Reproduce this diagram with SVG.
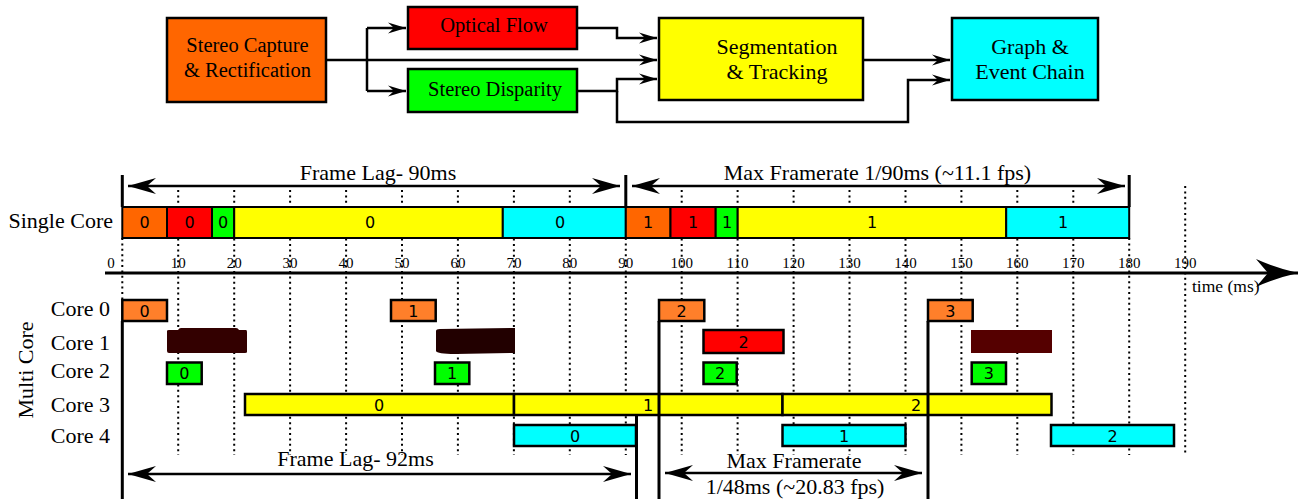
<svg xmlns="http://www.w3.org/2000/svg" width="1305" height="499" viewBox="0 0 1305 499">
<style>
.bx{stroke:#000;stroke-width:2.5}
.t{font-family:"Liberation Serif","Times New Roman",serif;fill:#000}
.fl{font-size:20.5px;text-anchor:middle}
.fl2{font-size:22px;text-anchor:middle}
.lb{font-size:22px}
.n{font-family:"DejaVu Sans",sans-serif;font-size:16px;text-anchor:middle;fill:#000}
.ax{font-family:"Liberation Serif",serif;font-size:15px;text-anchor:middle;fill:#000}
.c{fill:none;stroke:#000;stroke-width:2.5}
.dot{fill:none;stroke:#000;stroke-width:2;stroke-dasharray:2 3.4}
.v{stroke:#000;stroke-width:3}
.sb{stroke:#000;stroke-width:2}
.mb{stroke:#000;stroke-width:2.5}
.or{fill:#ff6600}.rd{fill:#ff0000}.gr{fill:#00ff00}.ye{fill:#ffff00}.cy{fill:#00ffff}.mo{fill:#ff7f2a}
</style>
<defs>
<marker id="sa" viewBox="-20 -7 22 14" refX="0" refY="0" markerWidth="22" markerHeight="14" markerUnits="userSpaceOnUse" orient="auto"><path d="M0,0 L-18,-5.5 L-12,0 L-18,5.5 Z" fill="#000"/></marker>
<marker id="ba" viewBox="-30 -10 32 20" refX="0" refY="0" markerWidth="32" markerHeight="20" markerUnits="userSpaceOnUse" orient="auto-start-reverse"><path d="M0,0 L-28,-8 L-19,0 L-28,8 Z" fill="#000"/></marker>
<marker id="axa" viewBox="-44 -15 46 30" refX="0" refY="0" markerWidth="46" markerHeight="30" markerUnits="userSpaceOnUse" orient="auto"><path d="M0,0 Q-22,-5 -42,-14 L-30,0 L-42,14 Q-22,5 0,0 Z" fill="#000"/></marker>
</defs>

<!-- Flowchart -->
<g id="capture"><rect class="bx or" x="167" y="18" width="159" height="84"/><text class="t fl" x="247.5" y="52">Stereo Capture</text><text class="t fl" x="247.5" y="77">&amp; Rectification</text></g>
<g id="optical"><rect class="bx rd" x="408" y="7" width="169" height="42"/><text class="t fl" x="494" y="32">Optical Flow</text></g>
<g id="disparity"><rect class="bx gr" x="408" y="69" width="169" height="43"/><text class="t fl" x="495" y="96">Stereo Disparity</text></g>
<g id="segmentation"><rect class="bx ye" x="659" y="18" width="204" height="82"/><text class="t fl2" x="777" y="54">Segmentation</text><text class="t fl2" x="777" y="79">&amp; Tracking</text></g>
<g id="graph"><rect class="bx cy" x="952" y="18" width="146" height="82"/><text class="t fl2" x="1030" y="54">Graph &amp;</text><text class="t fl2" x="1030" y="79">Event Chain</text></g>

<g id="connectors">
<path class="c" d="M326,60 H657" marker-end="url(#sa)"/>
<path class="c" d="M367,28 V91"/>
<path class="c" d="M367,28 H406" marker-end="url(#sa)"/>
<path class="c" d="M367,91 H406" marker-end="url(#sa)"/>
<path class="c" d="M577,28 H617 V38 H657" marker-end="url(#sa)"/>
<path class="c" d="M577,91 H617 V79 H657" marker-end="url(#sa)"/>
<path class="c" d="M617,91 V122 H908 V80 H950" marker-end="url(#sa)"/>
<path class="c" d="M863,60 H950" marker-end="url(#sa)"/>
</g>

<!-- Dotted grid lines -->
<g id="grid">
<line class="dot" x1="122.3" y1="238" x2="122.3" y2="300"/>
<line class="dot" x1="178.2" y1="190" x2="178.2" y2="455"/>
<line class="dot" x1="234.2" y1="190" x2="234.2" y2="455"/>
<line class="dot" x1="290.1" y1="190" x2="290.1" y2="455"/>
<line class="dot" x1="346.1" y1="190" x2="346.1" y2="455"/>
<line class="dot" x1="402" y1="190" x2="402" y2="455"/>
<line class="dot" x1="457.9" y1="190" x2="457.9" y2="455"/>
<line class="dot" x1="513.9" y1="190" x2="513.9" y2="455"/>
<line class="dot" x1="569.8" y1="190" x2="569.8" y2="455"/>
<line class="dot" x1="625.8" y1="238" x2="625.8" y2="455"/>
<line class="dot" x1="681.7" y1="190" x2="681.7" y2="455"/>
<line class="dot" x1="737.6" y1="190" x2="737.6" y2="455"/>
<line class="dot" x1="793.6" y1="190" x2="793.6" y2="455"/>
<line class="dot" x1="849.5" y1="190" x2="849.5" y2="455"/>
<line class="dot" x1="905.5" y1="190" x2="905.5" y2="455"/>
<line class="dot" x1="961.4" y1="190" x2="961.4" y2="455"/>
<line class="dot" x1="1017.3" y1="190" x2="1017.3" y2="455"/>
<line class="dot" x1="1073.3" y1="190" x2="1073.3" y2="455"/>
<line class="dot" x1="1129.2" y1="238" x2="1129.2" y2="455"/>
<line class="dot" x1="1185.2" y1="186" x2="1185.2" y2="455"/>
</g>

<!-- Single core timeline -->
<g id="single-core">
<text class="t lb" x="113" y="228" text-anchor="end">Single Core</text>
<line class="v" x1="122.3" y1="175" x2="122.3" y2="207"/>
<line class="v" x1="625.8" y1="175" x2="625.8" y2="207"/>
<line class="v" x1="1129.2" y1="175" x2="1129.2" y2="207"/>
<line class="c" x1="128" y1="186" x2="620" y2="186" marker-start="url(#ba)" marker-end="url(#ba)"/>
<line class="c" x1="632" y1="186" x2="1125" y2="186" marker-start="url(#ba)" marker-end="url(#ba)"/>
<text class="t lb" x="378" y="180" text-anchor="middle">Frame Lag- 90ms</text>
<text class="t lb" x="877.5" y="180" text-anchor="middle">Max Framerate 1/90ms (~11.1 fps)</text>
<rect class="sb or" x="122.3" y="207" width="44.7" height="31"/><text class="n" x="144.6" y="228">0</text>
<rect class="sb rd" x="167" y="207" width="45" height="31"/><text class="n" x="189.5" y="228">0</text>
<rect class="sb gr" x="212" y="207" width="22.2" height="31"/><text class="n" x="223.1" y="228">0</text>
<rect class="sb ye" x="234.2" y="207" width="268.6" height="31"/><text class="n" x="370" y="228">0</text>
<rect class="sb cy" x="502.8" y="207" width="123" height="31"/><text class="n" x="560" y="228">0</text>
<rect class="sb or" x="625.8" y="207" width="44.7" height="31"/><text class="n" x="648" y="228">1</text>
<rect class="sb rd" x="670.5" y="207" width="45.2" height="31"/><text class="n" x="693" y="228">1</text>
<rect class="sb gr" x="715.7" y="207" width="22" height="31"/><text class="n" x="727" y="228">1</text>
<rect class="sb ye" x="737.7" y="207" width="268.5" height="31"/><text class="n" x="872" y="228">1</text>
<rect class="sb cy" x="1006.2" y="207" width="123" height="31"/><text class="n" x="1063" y="228">1</text>
</g>

<!-- Time axis -->
<g id="axis">
<line x1="105" y1="273" x2="1298" y2="273" stroke="#000" stroke-width="3" marker-end="url(#axa)"/>
<text class="ax" x="111" y="268">0</text>
<text class="ax" x="178.2" y="268">10</text>
<text class="ax" x="234.2" y="268">20</text>
<text class="ax" x="290.1" y="268">30</text>
<text class="ax" x="346.1" y="268">40</text>
<text class="ax" x="402" y="268">50</text>
<text class="ax" x="457.9" y="268">60</text>
<text class="ax" x="513.9" y="268">70</text>
<text class="ax" x="569.8" y="268">80</text>
<text class="ax" x="625.8" y="268">90</text>
<text class="ax" x="681.7" y="268">100</text>
<text class="ax" x="737.6" y="268">110</text>
<text class="ax" x="793.6" y="268">120</text>
<text class="ax" x="849.5" y="268">130</text>
<text class="ax" x="905.5" y="268">140</text>
<text class="ax" x="961.4" y="268">150</text>
<text class="ax" x="1017.3" y="268">160</text>
<text class="ax" x="1073.3" y="268">170</text>
<text class="ax" x="1129.2" y="268">180</text>
<text class="ax" x="1185.2" y="268">190</text>
<text class="t" x="1192" y="292" font-size="17.5">time (ms)</text>
</g>

<!-- Multi core -->
<g id="multi-core-labels">
<text class="t lb" transform="translate(33,370) rotate(-90)" text-anchor="middle">Multi Core</text>
<text class="t lb" x="110" y="316" text-anchor="end">Core 0</text>
<text class="t lb" x="110" y="350" text-anchor="end">Core 1</text>
<text class="t lb" x="110" y="378" text-anchor="end">Core 2</text>
<text class="t lb" x="110" y="412" text-anchor="end">Core 3</text>
<text class="t lb" x="110" y="443" text-anchor="end">Core 4</text>
</g>

<g id="core0">
<rect class="mb mo" x="122.3" y="300" width="44.7" height="21"/><text class="n" x="144.6" y="316.5">0</text>
<rect class="mb mo" x="391" y="300" width="44.7" height="21"/><text class="n" x="413.4" y="316.5">1</text>
<rect class="mb mo" x="659" y="300" width="45.3" height="21"/><text class="n" x="681.7" y="316.5">2</text>
<rect class="mb mo" x="928" y="300" width="44.7" height="21"/><text class="n" x="950.4" y="316.5">3</text>
</g>

<g id="core1">
<path d="M167,331 Q167,330 169,330 H178 Q179,328 181,328 H236 Q238,328 239,330 H246 Q247,330 247,332 V352 Q247,353 245,353 H169 Q167,353 167,351 Z" fill="#330000"/>
<path d="M436,331 Q436,329 440,329 L515,328 V353 L455,354 Q437,354 436,351 Z" fill="#220000"/>
<rect class="mb rd" x="703.5" y="330" width="80" height="23"/><text class="n" x="743.5" y="347.5">2</text>
<rect x="971" y="330" width="81" height="23" fill="#550000"/>
</g>

<g id="core2">
<rect class="mb gr" x="167" y="362.5" width="34.7" height="21.5"/><text class="n" x="184.3" y="379">0</text>
<rect class="mb gr" x="435" y="362.5" width="34.3" height="21.5"/><text class="n" x="452.2" y="379">1</text>
<rect class="mb gr" x="703.5" y="362.5" width="33.2" height="21.5"/><text class="n" x="720.1" y="379">2</text>
<rect class="mb gr" x="971.7" y="362.5" width="34.3" height="21.5"/><text class="n" x="988.8" y="379">3</text>
</g>

<g id="core3">
<rect class="mb ye" x="245" y="394" width="269" height="21"/><text class="n" x="379" y="410.5">0</text>
<rect class="mb ye" x="514" y="394" width="268.5" height="21"/><text class="n" x="648" y="410.5">1</text>
<rect class="mb ye" x="782.5" y="394" width="269" height="21"/><text class="n" x="916" y="410.5">2</text>
</g>

<g id="core4">
<rect class="mb cy" x="514" y="425" width="122" height="21"/><text class="n" x="575" y="441.5">0</text>
<rect class="mb cy" x="782.5" y="425" width="123" height="21"/><text class="n" x="844" y="441.5">1</text>
<rect class="mb cy" x="1051" y="425" width="123" height="21"/><text class="n" x="1112.5" y="441.5">2</text>
</g>

<g id="multi-markers">
<line class="v" x1="122.3" y1="321" x2="122.3" y2="499"/>
<line class="v" x1="636.5" y1="415" x2="636.5" y2="499"/>
<line class="v" x1="659" y1="321" x2="659" y2="499"/>
<line class="v" x1="928" y1="321" x2="928" y2="499"/>
<line class="c" x1="128" y1="474" x2="631" y2="474" marker-start="url(#ba)" marker-end="url(#ba)"/>
<line class="c" x1="665" y1="473" x2="922" y2="473" marker-start="url(#ba)" marker-end="url(#ba)"/>
<text class="t lb" x="355.5" y="466" text-anchor="middle">Frame Lag- 92ms</text>
<text class="t lb" x="794" y="468" text-anchor="middle">Max Framerate</text>
<text class="t lb" x="795" y="494" text-anchor="middle">1/48ms (~20.83 fps)</text>
</g>
</svg>
